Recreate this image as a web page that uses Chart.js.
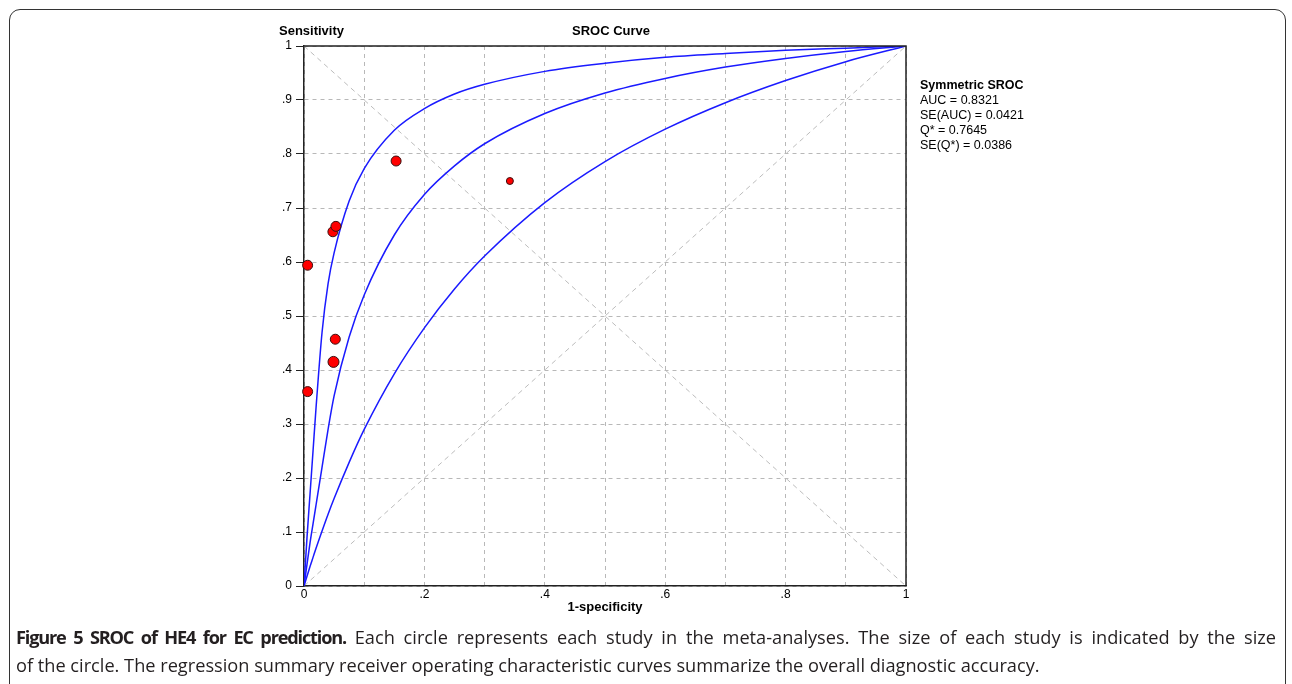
<!DOCTYPE html>
<html>
<head>
<meta charset="utf-8">
<script src="https://cdn.jsdelivr.net/npm/chart.js@4.4.1/dist/chart.umd.min.js"></script>
<style>
  body { margin: 0; background: #fff; width: 1292px; height: 684px; overflow: hidden; position: relative; }
  #frame { position: absolute; left: 9px; top: 9px; width: 1277px; height: 720px; border: 1.5px solid #333; border-radius: 11px; box-sizing: border-box; }
  #chart { position: absolute; left: 0; top: 0; }
  .lbl { position: absolute; font-family: "Liberation Sans", Arial, sans-serif; color: #000; white-space: nowrap; }
  #caption { position: absolute; left: 16px; top: 623px; width: 1260px; font-family: "Open Sans", sans-serif; font-size: 18.2px; line-height: 28px; color: #231f20; }
  #caption div { white-space: nowrap; }
  #caption .first { text-align: justify; text-align-last: justify; }
  #caption b { font-weight: 700; letter-spacing: -1.2px; }
</style>
</head>
<body>
<div id="frame"></div>
<canvas id="chart" width="1292" height="684"></canvas>
<div class="lbl" style="left:279px; top:23px; font-size:13px; font-weight:bold;">Sensitivity</div>
<div class="lbl" style="left:572px; top:23px; font-size:13px; font-weight:bold;">SROC Curve</div>
<div class="lbl" style="left:920px; top:78px; font-size:12.5px; line-height:15px;">
  <b>Symmetric SROC</b><br>AUC = 0.8321<br>SE(AUC) = 0.0421<br>Q* = 0.7645<br>SE(Q*) = 0.0386
</div>
<div id="caption">
  <div class="first"><b>Figure 5 SROC of HE4 for EC prediction.</b> Each circle represents each study in the meta-analyses. The size of each study is indicated by the size</div>
  <div>of the circle. The regression summary receiver operating characteristic curves summarize the overall diagnostic accuracy.</div>
</div>

<script>
// studies: 1-specificity vs sensitivity, marker size ~ study size
const studyFpr = [0.006, 0.006, 0.048, 0.053, 0.052, 0.049, 0.153, 0.342];
const studySens = [0.594, 0.360, 0.656, 0.666, 0.457, 0.415, 0.787, 0.750];
const studyWeight = [5, 5, 5, 5, 5, 5.5, 5, 3.5];

// SROC curves
const curveFpr = [0, 0.005, 0.01, 0.015, 0.02, 0.03, 0.04, 0.05, 0.075, 0.1, 0.15, 0.2, 0.25, 0.3, 0.4, 0.5, 0.6, 0.7, 0.8, 0.9, 1];
const upperSens = [0, 0.09, 0.17, 0.25, 0.33, 0.47, 0.56, 0.617, 0.713, 0.773, 0.844, 0.884, 0.911, 0.929, 0.953, 0.968, 0.979, 0.986, 0.992, 0.996, 1];
const middleSens = [0, 0.04, 0.08, 0.115, 0.15, 0.22, 0.29, 0.352, 0.461, 0.539, 0.650, 0.725, 0.778, 0.819, 0.875, 0.913, 0.940, 0.961, 0.977, 0.990, 1];
const lowerSens = [0, 0.018, 0.036, 0.053, 0.070, 0.102, 0.133, 0.162, 0.229, 0.290, 0.393, 0.478, 0.550, 0.611, 0.710, 0.786, 0.846, 0.895, 0.936, 0.971, 1];

const tickLabel = v => {
  const t = Math.round(v * 10);
  if (t === 0) return '0';
  if (t === 10) return '1';
  return '.' + t;
};

const toPoints = (xs, ys) => xs.map((x, i) => ({ x: x, y: ys[i] }));

const curveStyle = {
  type: 'line',
  borderColor: '#1a1aff',
  borderWidth: 1.5,
  pointRadius: 0,
  fill: false,
  cubicInterpolationMode: 'monotone',
  order: 1
};

const diagStyle = {
  type: 'line',
  borderColor: '#bcbcbc',
  borderWidth: 1,
  borderDash: [5, 4],
  pointRadius: 0,
  fill: false,
  order: 2
};

// outline of the plot box (top and right sides)
const boxPlugin = {
  id: 'box',
  afterDatasetsDraw(chart) {
    const a = chart.chartArea;
    const ctx = chart.ctx;
    ctx.save();
    ctx.strokeStyle = '#222';
    ctx.lineWidth = 1.5;
    ctx.beginPath();
    ctx.moveTo(a.left, a.top);
    ctx.lineTo(a.right, a.top);
    ctx.lineTo(a.right, a.bottom);
    ctx.stroke();
    ctx.restore();
  }
};

Chart.defaults.font.family = '"Liberation Sans", Arial, sans-serif';
Chart.defaults.color = '#000';

new Chart(document.getElementById('chart'), {
  data: {
    datasets: [
      {
        type: 'scatter',
        data: toPoints(studyFpr, studySens),
        pointRadius: studyWeight,
        pointBackgroundColor: '#ff0000',
        pointBorderColor: '#3a1010',
        pointBorderWidth: 1,
        clip: false,
        order: 0
      },
      Object.assign({ data: toPoints(curveFpr, upperSens) }, curveStyle),
      Object.assign({ data: toPoints(curveFpr, middleSens) }, curveStyle),
      Object.assign({ data: toPoints(curveFpr, lowerSens) }, curveStyle),
      Object.assign({ data: [{ x: 0, y: 1 }, { x: 1, y: 0 }] }, diagStyle),
      Object.assign({ data: [{ x: 0, y: 0 }, { x: 1, y: 1 }] }, diagStyle)
    ]
  },
  options: {
    responsive: false,
    animation: false,
    layout: { padding: { left: 274, right: 386, top: 46, bottom: 66 } },
    plugins: { legend: { display: false }, tooltip: { enabled: false } },
    scales: {
      x: {
        type: 'linear',
        min: 0,
        max: 1,
        afterFit: s => { s.height = 32; },
        ticks: {
          stepSize: 0.1,
          padding: 1,
          maxRotation: 0,
          autoSkip: false,
          font: { size: 12 },
          callback: v => (Math.round(v * 10) % 2 === 0 ? tickLabel(v) : '')
        },
        grid: { color: '#b8b8b8', drawTicks: false, lineWidth: 1 },
        border: { color: '#222', width: 1.5, dash: [4, 4] },
        title: { display: true, text: '1-specificity', font: { size: 13, weight: 'bold' }, padding: { top: 0, bottom: 3 } }
      },
      y: {
        type: 'linear',
        min: 0,
        max: 1,
        afterFit: s => { s.width = 30; },
        ticks: {
          stepSize: 0.1,
          padding: 4,
          autoSkip: false,
          font: { size: 12 },
          callback: v => tickLabel(v)
        },
        grid: { color: '#b8b8b8', tickColor: '#222', tickLength: 8, lineWidth: 1 },
        border: { color: '#222', width: 1.5, dash: [4, 4] }
      }
    }
  },
  plugins: [boxPlugin]
});
</script>
</body>
</html>
